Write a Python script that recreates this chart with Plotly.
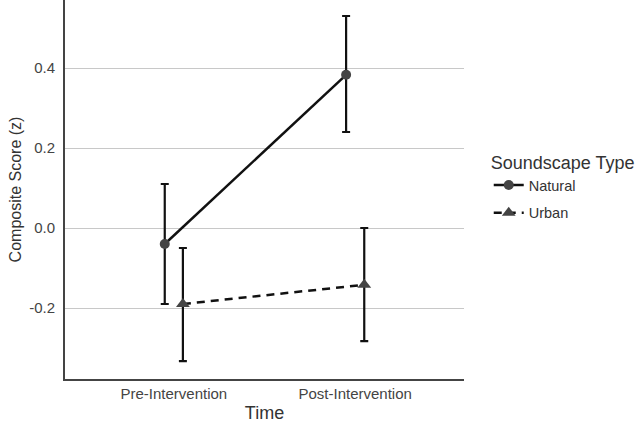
import plotly.graph_objects as go

times = ["Pre-Intervention", "Post-Intervention"]
natural_mean = [-0.04, 0.383]
natural_upper = [0.11, 0.53]
natural_lower = [-0.19, 0.24]
urban_mean = [-0.19, -0.142]
urban_upper = [-0.05, 0.0]
urban_lower = [-0.333, -0.283]

dodge = 0.05
series = [
    ("Natural", natural_mean, natural_upper, natural_lower, -dodge, "circle", 10, "solid"),
    ("Urban", urban_mean, urban_upper, urban_lower, dodge, "triangle-up", 12, "8px,6px"),
]

fig = go.Figure()
for name, m, up, lo, off, sym, sz, dash in series:
    xs = [i + off for i in range(len(times))]
    fig.add_trace(go.Scatter(
        x=xs, y=m, name=name, mode="lines+markers", legendgroup=name,
        line=dict(color="#111111", width=2.5, dash=dash),
        marker=dict(symbol=sym, size=sz, color="#444444"),
        error_y=dict(type="data", symmetric=False,
                     array=[u - v for u, v in zip(up, m)],
                     arrayminus=[v - l for v, l in zip(m, lo)],
                     color="#111111", thickness=2.2, width=4),
    ))

fig.update_layout(
    width=640, height=425,
    margin=dict(l=65, r=176, t=0, b=46, autoexpand=False),
    paper_bgcolor="white", plot_bgcolor="white",
    font=dict(family="Liberation Sans, Arial, sans-serif", color="#444444", size=15),
    showlegend=True,
    legend=dict(
        title=dict(text="Soundscape Type", font=dict(size=18, color="#333333")),
        x=1.062, xanchor="left", y=0.505, yanchor="middle",
        font=dict(size=14.5, color="#333333"), tracegroupgap=6, traceorder="grouped",
        itemwidth=30,
        bgcolor="rgba(0,0,0,0)",
    ),
    xaxis=dict(
        range=[-0.6, 1.6], tickmode="array",
        tickvals=list(range(len(times))), ticktext=times,
        showgrid=False, zeroline=False, showline=True, linecolor="#444444", linewidth=2,
        ticks="", tickfont=dict(size=15, color="#444444"), automargin=False,
        title=dict(text="Time", font=dict(size=18, color="#333333"), standoff=5),
    ),
    yaxis=dict(
        range=[-0.3775, 0.57], tickmode="array",
        tickvals=[-0.2, 0.0, 0.2, 0.4], ticktext=["-0.2", "0.0", "0.2", "0.4"],
        showgrid=True, gridcolor="#c8c8c8", gridwidth=1.2,
        zeroline=False, showline=True, linecolor="#444444", linewidth=2,
        ticks="outside", ticklen=5, tickcolor="rgba(0,0,0,0)",
        tickfont=dict(size=15, color="#444444"), automargin=False,
        title=dict(text="Composite Score (z)", font=dict(size=16, color="#333333"), standoff=4),
    ),
)

fig.write_html("out.html", config={"displayModeBar": False},
               post_script="document.body.style.margin='0';")
